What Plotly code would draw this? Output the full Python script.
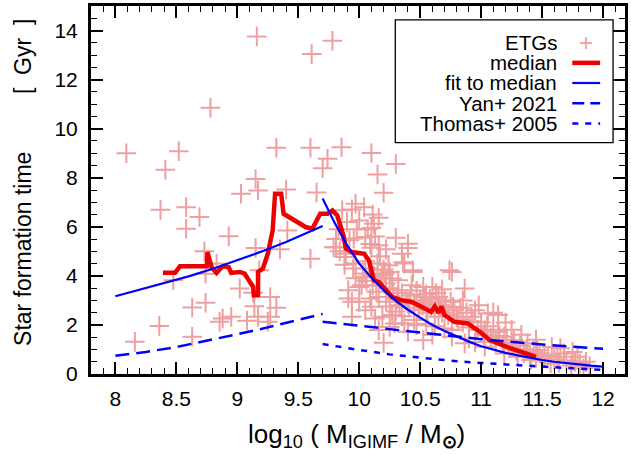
import plotly.graph_objects as go

# ---------------- data ----------------
etg_lo_x = [8.09, 8.41, 8.52, 8.78, 9.16, 9.61, 9.32, 9.60, 9.15, 9.17, 9.40, 9.03, 9.65,
            8.37, 8.58, 8.58, 8.69, 8.93, 9.41, 9.35, 9.15, 8.73, 9.60, 8.83, 8.74, 9.18,
            8.475, 9.02, 9.13, 9.27, 8.63, 8.74, 9.14, 9.32, 8.88, 8.95, 8.855, 9.08, 9.17,
            9.27, 9.25, 8.36, 8.63, 8.16, 9.70, 9.74]
etg_lo_y = [9.00, 8.33, 9.08, 10.85, 13.76, 13.04, 9.22, 9.22, 7.95, 7.48, 7.52, 7.35, 7.40,
            6.69, 6.80, 5.92, 6.40, 5.61, 5.85, 5.08, 5.14, 5.00, 4.70, 4.50, 4.09, 4.23,
            3.82, 3.48, 3.31, 3.14, 2.71, 2.90, 2.76, 2.70, 2.26, 2.33, 2.13, 2.17, 2.33,
            2.33, 2.13, 1.96, 1.52, 1.31, 8.39, 8.77]

etg_hi_x = [9.78, 9.855, 10.10, 10.15, 10.30, 10.20, 9.97, 9.94, 10.16, 10.00, 10.12, 10.10,
            9.86, 10.05, 10.30, 10.40, 9.79, 9.955, 10.10, 10.22, 9.88, 10.36, 10.44, 10.74,
            10.865, 10.21, 10.00, 9.91, 9.94, 10.16, 10.32, 10.43, 10.525, 10.65, 10.58, 10.10,
            10.19, 10.29, 10.16, 10.20, 10.525, 10.40, 10.76, 10.81, 10.92, 11.055, 11.14, 11.03,
            11.14, 11.19, 11.27, 11.38, 11.46, 11.52, 11.625, 11.68, 11.79, 11.81, 11.57, 11.41,
            11.30, 11.19, 11.03, 10.865, 10.76, 11.84,
            9.81, 9.89, 9.91, 10.02, 10.00, 10.09, 10.13, 10.25, 10.37, 10.47, 10.40, 10.54,
            10.59, 10.65, 10.70, 10.76, 10.77, 10.25, 10.27, 10.32, 10.37, 10.44, 10.19, 10.24,
            10.35, 10.40, 10.05, 9.97, 9.94]
etg_hi_y = [13.58, 9.24, 9.01, 8.13, 8.56, 7.39, 6.94, 6.71, 6.37, 6.26, 6.12, 5.95,
            6.67, 5.58, 5.55, 5.14, 5.17, 5.52, 5.15, 5.08, 4.77, 4.55, 4.23, 4.23,
            3.48, 4.09, 3.55, 3.08, 2.94, 3.14, 3.41, 3.62, 3.55, 3.14, 3.08, 2.74,
            2.33, 2.06, 1.79, 1.27, 1.38, 1.72, 1.79, 2.20, 2.33, 2.47, 2.40, 1.79,
            1.72, 1.52, 1.38, 1.25, 0.98, 0.70, 0.70, 0.84, 0.70, 0.43, 0.43, 0.57,
            0.70, 0.84, 1.11, 1.25, 1.52, 0.23,
            5.17, 4.90, 3.41, 3.62, 2.94, 3.08, 2.26, 1.92, 2.06, 1.99, 2.87, 3.14,
            2.74, 2.33, 3.01, 4.16, 2.74, 4.16, 3.89, 3.82, 4.50, 4.16, 4.02, 4.43,
            4.90, 5.31, 3.96, 4.50, 2.33]

etg_band_x = [10.05, 10.08, 10.12, 10.15, 10.18, 10.22, 10.25, 10.06, 10.11, 10.03, 10.17, 10.20,
              10.28, 10.14, 10.09, 10.13, 10.16, 10.07, 10.11, 10.04, 9.98, 9.92, 9.83, 9.90,
              10.31, 10.33, 10.35, 10.38, 10.41, 10.42, 10.45, 10.47, 10.49, 10.50, 10.52, 10.55,
              10.56, 10.60, 10.62, 10.63, 10.66, 10.68, 10.71, 10.73, 10.75, 10.78, 10.80, 10.83,
              10.85, 10.88, 10.90, 10.93, 10.95, 10.97, 11.00, 11.02, 11.05, 11.08, 11.10, 11.12,
              11.15, 11.18, 11.21, 11.24, 11.26, 11.29, 11.32, 11.35, 11.37, 11.40, 11.43, 11.45,
              11.48, 11.50, 11.55, 11.60, 11.64, 11.70, 11.74, 11.77, 11.86, 11.89,
              10.35, 10.45, 10.55, 10.62, 10.70, 10.90, 10.95, 10.60, 10.30, 10.25, 10.22, 10.27,
              10.05, 10.60, 10.68, 10.85, 10.98, 11.10, 11.20, 11.25, 11.33, 11.45, 11.58, 11.65,
              11.75, 9.84, 9.88, 9.81, 9.95, 9.97]
etg_band_y = [4.60, 4.30, 4.00, 4.50, 3.90, 3.70, 3.50, 3.80, 3.60, 4.10, 4.80, 4.25,
              3.30, 3.35, 5.30, 5.60, 5.25, 5.90, 6.50, 6.80, 5.90, 5.45, 5.90, 6.20,
              3.05, 2.80, 3.30, 3.00, 2.70, 3.20, 2.90, 3.40, 2.60, 3.00, 2.80, 3.25,
              2.50, 2.90, 2.65, 3.30, 2.80, 2.50, 2.75, 2.40, 2.95, 2.60, 2.30, 2.70,
              2.10, 2.50, 1.90, 2.15, 2.60, 1.80, 2.10, 1.60, 1.95, 1.50, 1.80, 1.30,
              1.55, 1.20, 1.40, 1.05, 1.25, 0.95, 1.15, 0.85, 1.00, 0.80, 0.95, 0.65,
              0.85, 0.55, 0.75, 0.60, 0.45, 0.55, 0.35, 0.50, 0.50, 0.30,
              2.35, 2.20, 2.05, 1.95, 1.85, 1.45, 1.30, 1.60, 2.55, 2.75, 2.95, 2.40,
              2.60, 3.55, 3.45, 3.00, 2.80, 2.50, 2.10, 1.80, 1.60, 1.40, 1.10, 1.05,
              0.90, 5.00, 4.45, 5.50, 4.30, 3.90]

median_x = [8.39, 8.49, 8.53, 8.75, 8.755, 8.79, 8.83, 8.88, 8.93, 8.95, 9.02, 9.06, 9.13,
            9.135, 9.17, 9.17, 9.21, 9.25, 9.29, 9.31, 9.36, 9.38, 9.56, 9.615, 9.68, 9.74,
            9.78, 9.82, 9.87, 9.89, 9.94, 10.04, 10.08, 10.12, 10.16, 10.20, 10.27, 10.34,
            10.43, 10.51, 10.59, 10.62, 10.65, 10.675, 10.70, 10.78, 10.89, 10.99, 11.07,
            11.245, 11.45]
median_y = [4.13, 4.13, 4.39, 4.39, 4.97, 4.34, 4.12, 4.39, 4.35, 4.12, 4.16, 4.09, 3.55,
            3.21, 3.21, 4.16, 4.30, 4.90, 5.85, 7.35, 7.35, 6.53, 5.99, 5.92, 6.53, 6.53,
            6.67, 6.46, 5.65, 5.11, 4.97, 4.90, 4.63, 3.82, 3.75, 3.55, 3.14, 3.01,
            2.94, 2.74, 2.53, 2.75, 2.50, 2.75, 2.40, 2.13, 2.06, 1.72, 1.38,
            1.04, 0.70]

fit_lo_x = [8.0, 8.2, 8.4, 8.6, 8.8, 9.0, 9.2, 9.4, 9.6, 9.7]
fit_lo_y = [3.17, 3.43, 3.69, 3.98, 4.29, 4.63, 4.99, 5.38, 5.80, 6.03]
fit_hi_x = [9.7, 9.8, 9.9, 10.0, 10.1, 10.2, 10.3, 10.4, 10.5, 10.6, 10.7, 10.8, 10.9,
            11.0, 11.1, 11.2, 11.3, 11.4, 11.5, 11.6, 11.7, 11.8, 11.9, 12.0]
fit_hi_y = [7.15, 6.15, 5.25, 4.50, 3.92, 3.42, 2.98, 2.62, 2.30, 2.00, 1.75, 1.53, 1.32,
            1.13, 0.98, 0.86, 0.76, 0.66, 0.57, 0.50, 0.44, 0.39, 0.34, 0.30]

yan_lo_x = [8.0, 8.25, 8.5, 8.75, 9.0, 9.25, 9.5, 9.7]
yan_lo_y = [0.74, 0.90, 1.10, 1.35, 1.62, 1.90, 2.20, 2.45]
yan_hi_x = [9.7, 10.0, 10.5, 11.0, 11.5, 12.0]
yan_hi_y = [2.13, 1.97, 1.68, 1.42, 1.20, 1.03]

thomas_x = [9.7, 9.85, 10.0, 10.25, 10.5, 10.75, 11.0, 11.25, 11.5, 11.75, 12.0]
thomas_y = [1.22, 1.09, 0.98, 0.80, 0.66, 0.54, 0.45, 0.37, 0.30, 0.23, 0.17]

legend_labels = ["ETGs", "median", "fit to median", "Yan+ 2021", "Thomas+ 2005"]

# ---------------- styles ----------------
FONT = "Liberation Sans, Arial, sans-serif"
PINK = "rgb(238,160,160)"
RED = "rgb(238,0,0)"
BLUE = "rgb(0,0,255)"
DASH = "14px,7px"
DOT = "6px,7px"

fig = go.Figure()

fig.add_trace(go.Scatter(
    x=etg_lo_x + etg_hi_x + etg_band_x, y=etg_lo_y + etg_hi_y + etg_band_y,
    mode="markers", name=legend_labels[0], showlegend=False,
    marker=dict(symbol="cross-thin", size=14, line=dict(width=2, color=PINK), color=PINK),
))
fig.add_trace(go.Scatter(x=median_x, y=median_y, mode="lines", name=legend_labels[1],
                         showlegend=False, line=dict(color=RED, width=4.5)))
fig.add_trace(go.Scatter(x=fit_lo_x + [None] + fit_hi_x, y=fit_lo_y + [None] + fit_hi_y,
                         mode="lines", name=legend_labels[2], showlegend=False,
                         line=dict(color=BLUE, width=2.2)))
fig.add_trace(go.Scatter(x=yan_lo_x + [None] + yan_hi_x, y=yan_lo_y + [None] + yan_hi_y,
                         mode="lines", name=legend_labels[3], showlegend=False,
                         line=dict(color=BLUE, width=2.5, dash=DASH)))
fig.add_trace(go.Scatter(x=thomas_x, y=thomas_y, mode="lines", name=legend_labels[4],
                         showlegend=False, line=dict(color=BLUE, width=2.5, dash=DOT)))

W, H = 631, 455
L, R, T, B = 91, 3, 5, 81
pw, ph = W - L - R, H - T - B


def px2paper(px, py):
    return (px - L) / pw, (H - B - py) / ph


# custom gnuplot-style legend (text right-aligned, sample on the right)
x0, y0 = px2paper(397, 19)
x1, y1 = px2paper(616, 142)
shapes = [dict(type="rect", xref="paper", yref="paper", x0=x0, y0=y1, x1=x1, y1=y0,
               line=dict(color="black", width=1.3), fillcolor="white", layer="above")]
annotations = []
row_y = [41.7, 62.0, 82.2, 102.5, 122.7]
samples = [None, dict(color=RED, width=4.5, dash="solid"), dict(color=BLUE, width=2.2, dash="solid"),
           dict(color=BLUE, width=2.5, dash="12px,6px"), dict(color=BLUE, width=2.5, dash=DOT)]
for i, lab in enumerate(legend_labels):
    tx, ty = px2paper(562, row_y[i])
    annotations.append(dict(text=lab, xref="paper", yref="paper", x=tx, y=ty, xanchor="right",
                            yanchor="middle", showarrow=False, height=19,
                            font=dict(family=FONT, size=20.5, color="black")))
    sx0, sy = px2paper(575, row_y[i])
    sx1, _ = px2paper(603, row_y[i])
    if samples[i] is None:
        cx, cy = px2paper(589, row_y[i])
        annotations.append(dict(text="+", xref="paper", yref="paper", x=cx, y=cy,
                                xanchor="center", yanchor="middle", showarrow=False, height=19,
                                font=dict(family=FONT, size=24, color=PINK)))
    else:
        shapes.append(dict(type="line", xref="paper", yref="paper", x0=sx0, x1=sx1, y0=sy, y1=sy,
                           line=samples[i], layer="above"))

# axis titles
tx, ty = px2paper(358, 436)
annotations.append(dict(
    text="log<sub>10</sub> ( M<sub>IGIMF</sub> / M<sub><b>\u2299</b></sub>)",
    xref="paper", yref="paper", x=tx, y=ty, xanchor="center", yanchor="middle",
    showarrow=False, font=dict(family=FONT, size=26, color="black")))
tx, ty = px2paper(22, 182)
annotations.append(dict(
    text="Star formation time" + "\u00a0" * 9 + "[\u00a0\u00a0Gyr\u00a0\u00a0]",
    xref="paper", yref="paper", x=tx, y=ty, xanchor="center", yanchor="middle",
    textangle=-90, showarrow=False, font=dict(family=FONT, size=23, color="black")))

axis_common = dict(showline=True, linewidth=3, linecolor="black", mirror="allticks",
                   ticks="inside", ticklen=12, tickwidth=1.5, tickcolor="black",
                   showgrid=False, zeroline=False,
                   tickfont=dict(family=FONT, size=21, color="black"))

fig.update_layout(
    width=W, height=H, margin=dict(l=L, r=R, t=T, b=B),
    paper_bgcolor="white", plot_bgcolor="white", showlegend=False,
    xaxis=dict(range=[7.8, 12.18], tickmode="linear", tick0=8, dtick=0.5,
               minor=dict(dtick=0.1, ticklen=6, tickwidth=1.2, ticks="inside", tickcolor="black"),
               ticklabelstandoff=4, **axis_common),
    yaxis=dict(range=[0, 15], tickmode="linear", tick0=0, dtick=2,
               minor=dict(dtick=0.5, ticklen=6, tickwidth=1.2, ticks="inside", tickcolor="black"),
               ticklabelstandoff=6, **axis_common),
    shapes=shapes, annotations=annotations,
)

fig.write_html("out.html")
